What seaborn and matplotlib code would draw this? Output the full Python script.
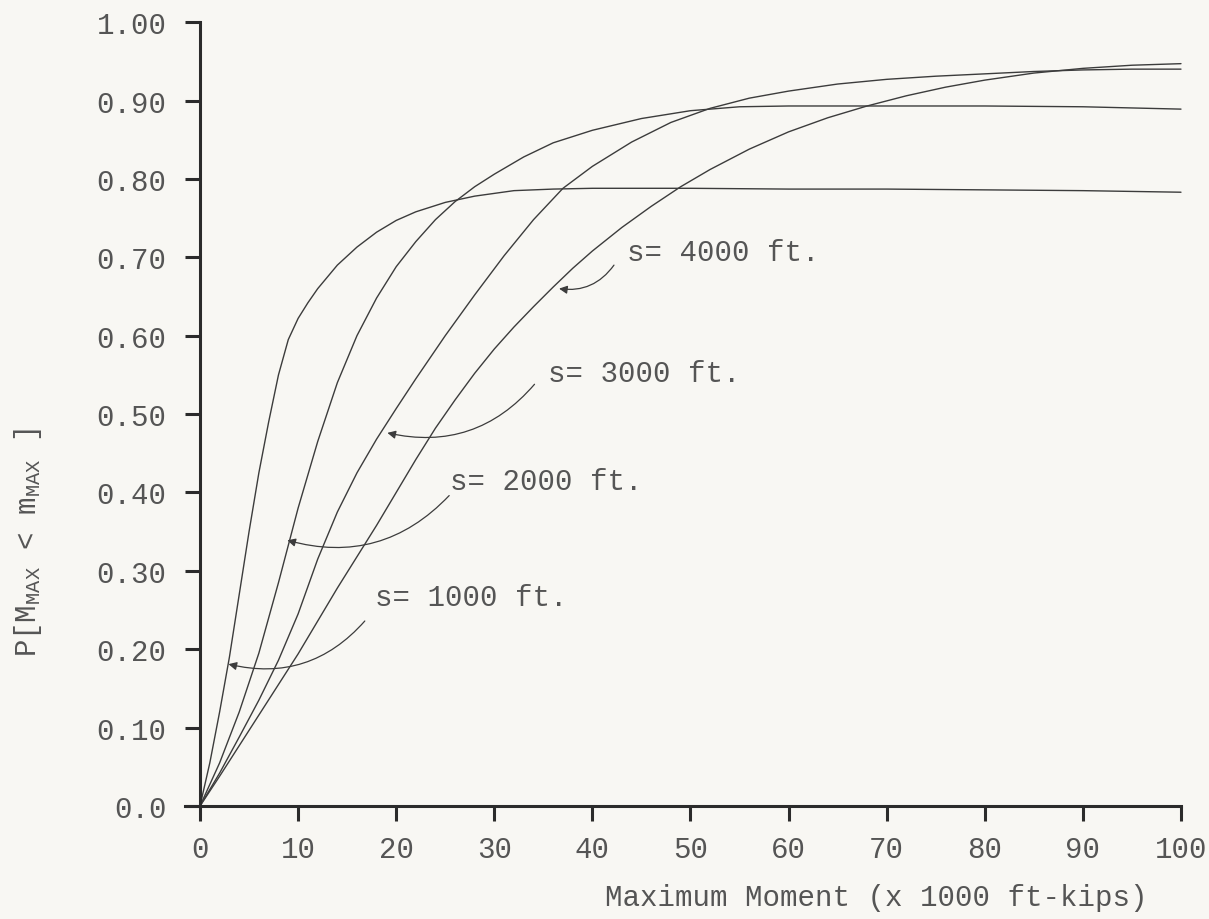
import matplotlib
matplotlib.use("Agg")
import matplotlib.pyplot as plt
import seaborn as sns
import numpy as np
import pandas as pd

# curve values (x in 1000 ft-kips, y = probability)
x_1000 = [0, 1, 2, 3, 4, 5, 6, 7, 8, 9, 10, 11, 12, 14, 16, 18, 20, 22, 25, 28, 32, 36, 40, 50, 60, 70, 80, 90, 100]
y_1000 = [0, 0.055, 0.12, 0.19, 0.27, 0.35, 0.425, 0.49, 0.55, 0.595, 0.622, 0.642, 0.66, 0.69, 0.713, 0.732, 0.747, 0.758, 0.77, 0.778, 0.785, 0.787, 0.788, 0.788, 0.787, 0.787, 0.786, 0.785, 0.783]

x_2000 = [0, 2, 4, 6, 8, 10, 12, 14, 16, 18, 20, 22, 24, 26, 28, 30, 33, 36, 40, 45, 50, 55, 60, 70, 80, 90, 100]
y_2000 = [0, 0.055, 0.12, 0.195, 0.285, 0.38, 0.465, 0.54, 0.6, 0.648, 0.688, 0.72, 0.748, 0.771, 0.79, 0.806, 0.828, 0.846, 0.862, 0.877, 0.887, 0.892, 0.893, 0.893, 0.893, 0.892, 0.889]

x_3000 = [0, 2, 4, 6, 8, 10, 12, 14, 16, 18, 20, 22, 25, 28, 31, 34, 37, 40, 44, 48, 52, 56, 60, 65, 70, 75, 80, 85, 90, 95, 100]
y_3000 = [0, 0.042, 0.088, 0.135, 0.186, 0.245, 0.315, 0.375, 0.425, 0.468, 0.507, 0.545, 0.6, 0.652, 0.702, 0.748, 0.788, 0.816, 0.847, 0.872, 0.89, 0.903, 0.912, 0.921, 0.927, 0.931, 0.934, 0.937, 0.939, 0.94, 0.94]

x_4000 = [0, 2, 4, 6, 8, 10, 12, 14, 16, 18, 20, 22, 24, 26, 28, 30, 32, 34, 36, 38, 40, 43, 46, 49, 52, 56, 60, 64, 68, 72, 76, 80, 85, 90, 95, 100]
y_4000 = [0, 0.038, 0.077, 0.116, 0.155, 0.194, 0.236, 0.278, 0.318, 0.358, 0.4, 0.442, 0.482, 0.518, 0.552, 0.583, 0.611, 0.637, 0.662, 0.686, 0.708, 0.738, 0.765, 0.79, 0.812, 0.838, 0.86, 0.878, 0.893, 0.906, 0.917, 0.926, 0.935, 0.941, 0.945, 0.947]

labels = ['s= 1000 ft.', 's= 2000 ft.', 's= 3000 ft.', 's= 4000 ft.']
# text position, arrow start, arrow tip (data coords)
label_xy = [(17.8, 0.267), (25.5, 0.415), (35.5, 0.553), (43.5, 0.707)]
arrow_from = [(16.8, 0.236), (25.4, 0.396), (34.1, 0.538), (42.2, 0.69)]
arrow_to = [(2.9, 0.181), (8.9, 0.339), (19.1, 0.476), (36.6, 0.66)]

x_ticks = list(range(0, 101, 10))
y_ticks = [round(0.1 * i, 1) for i in range(11)]
y_ticklabels = ['0.0'] + ['%.2f' % v for v in y_ticks[1:]]

frames = []
for name, xs, ys in zip(labels, [x_1000, x_2000, x_3000, x_4000], [y_1000, y_2000, y_3000, y_4000]):
    frames.append(pd.DataFrame({'moment': xs, 'prob': ys, 'spacing': name}))
df = pd.concat(frames, ignore_index=True)

sns.set_style("ticks")
plt.rcParams['font.family'] = ['Liberation Mono', 'DejaVu Sans Mono']
plt.rcParams['mathtext.fontset'] = 'custom'
plt.rcParams['mathtext.rm'] = 'Liberation Mono'
plt.rcParams['mathtext.it'] = 'Liberation Mono'

bg = '#f8f7f3'
txt = '#555555'
axc = '#2b2b2b'
fs = 21

fig = plt.figure(figsize=(12.09, 9.20), dpi=100, facecolor=bg)
ax = fig.add_axes([0.1492, 0.1143, 0.8398, 0.8691])
ax.set_facecolor(bg)

sns.lineplot(data=df, x='moment', y='prob', hue='spacing',
             palette=['#3c3c3c'] * 4, linewidth=1.0, legend=False,
             estimator=None, sort=False, ax=ax)
for line in ax.get_lines():
    line.set_clip_on(False)

ax.set_xlim(-2, 101.5)
ax.set_ylim(-0.01, 1.01)

for side in ['top', 'right']:
    ax.spines[side].set_visible(False)
ax.spines['left'].set_position(('data', 0))
ax.spines['left'].set_bounds(0, 1.0)
ax.spines['bottom'].set_position(('data', 0))
ax.spines['bottom'].set_bounds(-1.5, 100)
for side in ['left', 'bottom']:
    ax.spines[side].set_linewidth(2.2)
    ax.spines[side].set_color(axc)

ax.set_xticks(x_ticks)
ax.set_xticklabels([str(v) for v in x_ticks])
ax.set_yticks(y_ticks)
ax.set_yticklabels(y_ticklabels)
ax.tick_params(axis='both', which='major', direction='out', length=11, width=2.2,
               color=axc, labelsize=fs, labelcolor=txt,
               bottom=True, left=True, top=False, right=False)
ax.tick_params(axis='x', pad=10)
ax.tick_params(axis='y', pad=13)

ax.set_xlabel('Maximum Moment (x 1000 ft-kips)', fontsize=fs, color=txt)
ax.xaxis.set_label_coords(0.685, -0.104)
ax.xaxis.label.set_va('center')
ax.set_ylabel(r'P[M$_{\mathrm{MAX}}$ < m$_{\mathrm{MAX}}$ ]', fontsize=fs, color=txt)
ax.yaxis.set_label_coords(-0.150, 0.341)
ax.yaxis.label.set_va('center')

for lab, pos, a0, a1 in zip(labels, label_xy, arrow_from, arrow_to):
    ax.text(pos[0], pos[1], lab, fontsize=fs, color=txt, ha='left', va='center')
    ax.annotate('', xy=a1, xytext=a0,
                arrowprops=dict(arrowstyle='-|>', color='#3c3c3c', lw=0.9,
                                mutation_scale=12, shrinkA=0, shrinkB=0,
                                connectionstyle='arc3,rad=-0.3'))

plt.savefig('out.png', dpi=100, facecolor=bg)
